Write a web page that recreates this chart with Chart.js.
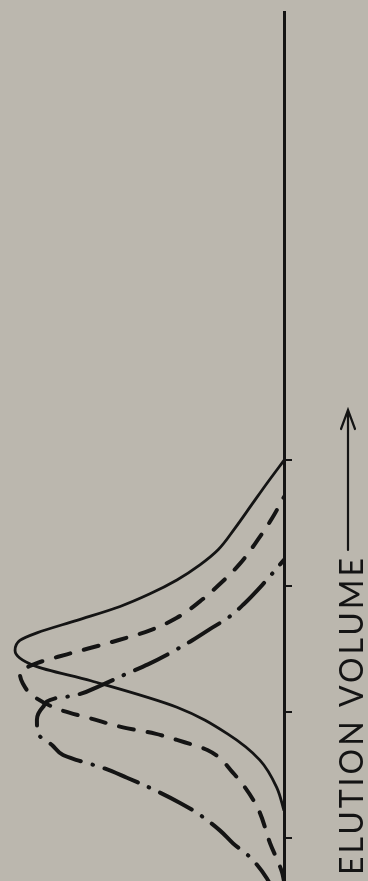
<!DOCTYPE html>
<html>
<head>
<meta charset="utf-8">
<title>Elution volume profiles</title>
<script src="https://cdn.jsdelivr.net/npm/chart.js@4.4.0/dist/chart.umd.min.js"></script>
<style>
  html, body { margin: 0; padding: 0; background: #bbb7ae; overflow: hidden; }
  canvas { display: block; }
</style>
</head>
<body>
<canvas id="chart" width="368" height="881"></canvas>
<script>
// Values. Volume runs up the page (one unit per tick),
// response runs out to the left of the baseline (0 - 100).
const solidVolume   = [0.22, 0.40, 0.62, 0.83, 1.04, 1.25, 1.37, 1.49, 1.57, 1.63, 1.73, 1.84, 1.94, 2.05, 2.17, 2.29, 2.46, 2.65, 2.83, 3.00];
const solidResponse = [0, 2.5, 8.5, 20, 37.7, 68, 88, 94.7, 93, 87, 72.9, 57.7, 47.2, 37.7, 29.6, 23.2, 17.3, 11.3, 5.6, 0];

const dashedVolume   = [-0.34, -0.27, -0.04, 0.25, 0.52, 0.70, 0.78, 0.83, 0.88, 0.95, 1.02, 1.13, 1.23, 1.31, 1.39, 1.46, 1.56, 1.65, 1.75, 1.88, 2.02, 2.18, 2.37, 2.54, 2.71];
const dashedResponse = [0, 0.7, 4.9, 9.5, 18, 27, 37.7, 45.4, 56.7, 68, 78.9, 88.4, 92, 93, 87, 76.4, 60.2, 47.2, 37.7, 29.6, 22.5, 15.5, 9.2, 4.2, 0];

const dashDotVolume   = [-0.45, -0.32, -0.15, -0.04, 0.06, 0.20, 0.28, 0.40, 0.48, 0.56, 0.62, 0.66, 0.74, 0.83, 0.94, 1.04, 1.11, 1.13, 1.21, 1.30, 1.38, 1.47, 1.56, 1.66, 1.75, 1.86, 2.01, 2.21];
const dashDotResponse = [3.2, 6, 12, 18, 22.5, 30.6, 36.6, 47.2, 55.3, 64, 72.9, 77.8, 81.7, 86.6, 87, 84.9, 80.6, 74.6, 64.8, 56, 47.9, 40.1, 33.1, 26.1, 19.7, 14.1, 7.7, 0];

const volumeTicks = [0, 1, 2, 3];
const axisTitle = 'ELUTION VOLUME';

const ink = '#141414';

function toPoints(volume, response) {
    return volume.map((v, i) => ({ x: response[i], y: v }));
}

// rotated axis title with its arrow, read bottom to top
const axisTitlePlugin = {
    id: 'axisTitle',
    afterDraw: function(chart) {
        const ctx = chart.ctx;
        ctx.save();
        ctx.translate(363, 875);
        ctx.rotate(-Math.PI / 2);
        ctx.fillStyle = ink;
        ctx.strokeStyle = ink;
        ctx.font = '32px Lato';
        ctx.textAlign = 'left';
        ctx.textBaseline = 'alphabetic';
        const plain = ctx.measureText(axisTitle).width;
        ctx.letterSpacing = ((317 - plain) / (axisTitle.length - 1)) + 'px';
        ctx.fillText(axisTitle, 0, 0);

        // arrow
        ctx.lineWidth = 2.2;
        ctx.lineCap = 'round';
        ctx.beginPath();
        ctx.moveTo(325, -15);
        ctx.lineTo(465, -15);
        ctx.moveTo(446, -22);
        ctx.lineTo(465, -15);
        ctx.lineTo(446, -8);
        ctx.stroke();
        ctx.restore();
    }
};

function drawChart() {
    new Chart(document.getElementById('chart'), {
        type: 'scatter',
        data: {
            datasets: [
                {
                    label: 'solid',
                    data: toPoints(solidVolume, solidResponse),
                    borderColor: ink,
                    borderWidth: 2.8
                },
                {
                    label: 'dashed',
                    data: toPoints(dashedVolume, dashedResponse),
                    borderColor: ink,
                    borderWidth: 4,
                    borderDash: [15, 14],
                    borderCapStyle: 'round'
                },
                {
                    label: 'dash-dot',
                    data: toPoints(dashDotVolume, dashDotResponse),
                    borderColor: ink,
                    borderWidth: 4,
                    borderDash: [36, 12, 0.5, 12],
                    borderCapStyle: 'round'
                }
            ].map(ds => Object.assign(ds, {
                showLine: true,
                cubicInterpolationMode: 'monotone',
                pointRadius: 0,
                pointHoverRadius: 0,
                fill: false
            }))
        },
        options: {
            indexAxis: 'y',
            responsive: false,
            animation: false,
            events: [],
            layout: { padding: { top: 12, left: 0, right: 0, bottom: 0 } },
            plugins: {
                legend: { display: false },
                tooltip: { enabled: false }
            },
            scales: {
                x: {
                    type: 'linear',
                    reverse: true,
                    min: 0,
                    max: 100,
                    display: false
                },
                y: {
                    type: 'linear',
                    position: 'right',
                    min: -0.34,
                    max: 6.56,
                    afterBuildTicks: function(scale) {
                        scale.ticks = volumeTicks.map(v => ({ value: v }));
                    },
                    afterFit: function(scale) {
                        scale.width = 84;
                    },
                    ticks: { display: false },
                    grid: {
                        drawOnChartArea: false,
                        drawTicks: true,
                        tickLength: 8,
                        lineWidth: 2,
                        color: ink
                    },
                    border: { display: true, color: ink, width: 3 }
                }
            }
        },
        plugins: [axisTitlePlugin]
    });
}

if (document.fonts && document.fonts.load) {
    document.fonts.load('32px Lato').then(drawChart, drawChart);
} else {
    drawChart();
}
</script>
</body>
</html>
